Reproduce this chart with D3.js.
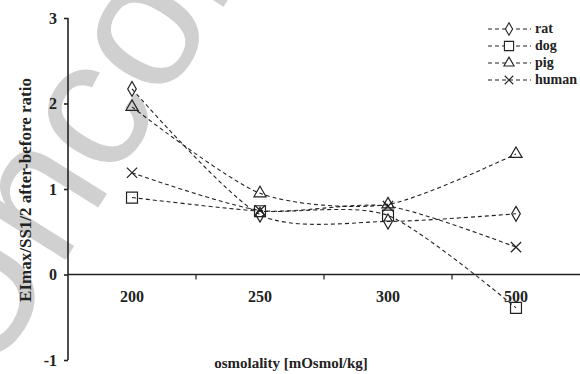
<!DOCTYPE html>
<html>
<head>
<meta charset="utf-8">
<script src="https://d3js.org/d3.v7.min.js"></script>
<style>
body { margin: 0; background: #fff; }
svg { display: block; }
text { font-family: "Liberation Serif", "Times New Roman", serif; font-weight: bold; fill: #222; }
</style>
</head>
<body>
<div id="chart"></div>
<script>
  // data
  var categories = ["200", "250", "300", "500"];
  var rat = [2.17, 0.70, 0.62, 0.71];
  var dog = [0.90, 0.74, 0.69, -0.39];
  var pig = [1.96, 0.95, 0.82, 1.41];
  var human = [1.19, 0.75, 0.80, 0.32];
  var yTicks = [-1, 0, 1, 2, 3];

  var series = [
    { name: "rat", values: rat, symbol: d3.symbolDiamond, size: 64 },
    { name: "dog", values: dog, symbol: d3.symbolSquare, size: 120 },
    { name: "pig", values: pig, symbol: d3.symbolTriangle, size: 64 },
    { name: "human", values: human, symbol: d3.symbolTimes, size: 70 }
  ];

  var width = 580, height = 374;
  var padLeft = 68, padTop = 18, padBottom = 360;

  var svg = d3.select("#chart").append("svg")
    .attr("width", width)
    .attr("height", height);

  // watermark behind the chart
  svg.append("text")
    .attr("transform", "translate(-12,384) rotate(-58)")
    .style("font-family", "'Liberation Sans', Arial, sans-serif")
    .style("font-weight", "normal")
    .style("font-size", "185px")
    .style("fill", "#d0d0d0")
    .text("Uncorrected Proof");

  var x = d3.scaleBand().domain(categories).range([padLeft, width]);
  var y = d3.scaleLinear().domain([-1, 3]).range([padBottom, padTop]);

  // y axis (plain hyphen for the minus, like the original)
  var yAxis = svg.append("g")
    .attr("transform", "translate(" + padLeft + ",0)")
    .call(d3.axisLeft(y).tickValues(yTicks).tickSize(4).tickFormat(function(d) { return String(d); }));
  yAxis.selectAll("path, line").attr("stroke", "#222").attr("stroke-width", 1.6);
  yAxis.select(".domain").attr("d", "M0," + y(3) + "V" + y(-1));
  yAxis.selectAll("text").style("font-size", "16px").attr("x", -11);

  // x axis at zero
  var x0 = y(0);
  svg.append("line")
    .attr("x1", padLeft).attr("x2", width)
    .attr("y1", x0).attr("y2", x0)
    .attr("stroke", "#222").attr("stroke-width", 1.6);
  svg.selectAll(".xtick")
    .data(categories.slice(1))
    .enter().append("line")
    .attr("class", "xtick")
    .attr("x1", function(d) { return x(d); })
    .attr("x2", function(d) { return x(d); })
    .attr("y1", x0).attr("y2", x0 + 5)
    .attr("stroke", "#222").attr("stroke-width", 1.2);
  svg.selectAll(".xlabel")
    .data(categories)
    .enter().append("text")
    .attr("class", "xlabel")
    .attr("x", function(d) { return x(d) + x.bandwidth() / 2; })
    .attr("y", x0 + 27)
    .attr("text-anchor", "middle")
    .style("font-size", "16px")
    .text(function(d) { return d; });

  // titles
  svg.append("text")
    .attr("transform", "translate(31,190) rotate(-90)")
    .attr("text-anchor", "middle")
    .style("font-size", "17px")
    .text("EImax/SS1/2 after-before ratio");
  svg.append("text")
    .attr("x", 291).attr("y", 368)
    .attr("text-anchor", "middle")
    .style("font-size", "15px")
    .text("osmolality [mOsmol/kg]");

  // lines, lightly smoothed
  var line = d3.line()
    .x(function(d, i) { return x(categories[i]) + x.bandwidth() / 2; })
    .y(function(d) { return y(d); })
    .curve(d3.curveCardinal.tension(0.25));

  series.forEach(function(s) {
    svg.append("path")
      .attr("d", line(s.values))
      .attr("fill", "none")
      .attr("stroke", "#222")
      .attr("stroke-width", 1.1)
      .attr("stroke-dasharray", "4,3");
    svg.selectAll(".pt-" + s.name)
      .data(s.values)
      .enter().append("path")
      .attr("transform", function(d, i) {
        return "translate(" + (x(categories[i]) + x.bandwidth() / 2) + "," + y(d) + ")";
      })
      .attr("d", d3.symbol().type(s.symbol).size(s.size))
      .attr("fill", "none")
      .attr("stroke", "#222")
      .attr("stroke-width", 1.2);
  });

  // legend
  var legend = svg.selectAll(".legend")
    .data(series)
    .enter().append("g")
    .attr("class", "legend")
    .attr("transform", function(d, i) { return "translate(488," + (29 + i * 17) + ")"; });
  legend.append("line")
    .attr("x1", 0).attr("x2", 43)
    .attr("stroke", "#222").attr("stroke-width", 1.1)
    .attr("stroke-dasharray", "4,3");
  legend.append("path")
    .attr("transform", "translate(21,0)")
    .attr("d", function(d) { return d3.symbol().type(d.symbol).size(d.size * 0.7)(); })
    .attr("fill", "#fff")
    .attr("stroke", "#222")
    .attr("stroke-width", 1.1);
  legend.append("text")
    .attr("x", 47).attr("y", 4)
    .style("font-size", "14px")
    .text(function(d) { return d.name; });
</script>
</body>
</html>
